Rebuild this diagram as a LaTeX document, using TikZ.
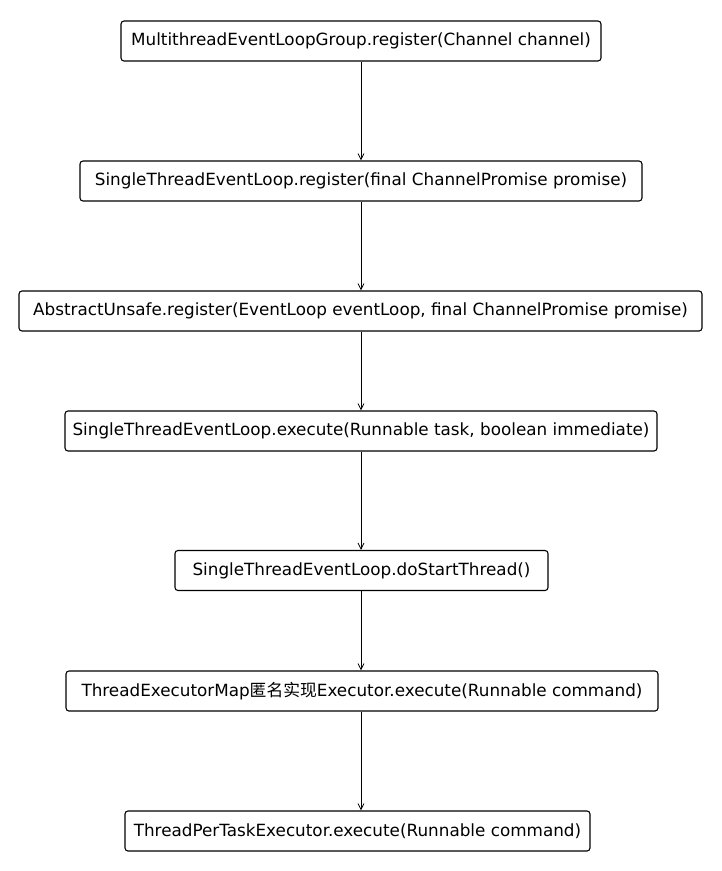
\documentclass[tikz,border=0pt]{standalone}
\usepackage{fontspec}
\setmainfont{DejaVu Sans}
\newfontfamily\cjk{Noto Sans CJK SC}
\usetikzlibrary{arrows.meta}

\begin{document}
\begin{tikzpicture}[
    x=1pt, y=-1pt,
    box/.style={rectangle, draw, rounded corners=3pt, line width=1.1pt, minimum height=40pt, inner sep=0pt, align=center, font=\fontsize{16.8}{20}\selectfont},
    arrow/.style={-{Straight Barb[length=6pt, width=6pt]}, line width=0.8pt}
]
\useasboundingbox (0,0) rectangle (722,871);
\node[box, minimum width=480pt] (group) at (361,41) {MultithreadEventLoopGroup.register(Channel channel)};
\node[box, minimum width=562pt] (loopreg) at (361,181) {SingleThreadEventLoop.register(final ChannelPromise promise)};
\node[box, minimum width=683pt] (unsafe) at (360.5,311) {AbstractUnsafe.register(EventLoop eventLoop, final ChannelPromise promise)};
\node[box, minimum width=592pt] (loopexec) at (361,431) {SingleThreadEventLoop.execute(Runnable task, boolean immediate)};
\node[box, minimum width=373pt] (start) at (361.5,570.5) {SingleThreadEventLoop.doStartThread()};
\node[box, minimum width=592pt] (mapexec) at (362,691) {ThreadExecutorMap{\cjk 匿名实现}Executor.execute(Runnable command)};
\node[box, minimum width=465pt] (pertask) at (357.5,831) {ThreadPerTaskExecutor.execute(Runnable command)};

\draw[arrow] (group.south -| 361,0) -- (loopreg.north -| 361,0);
\draw[arrow] (loopreg.south -| 361,0) -- (unsafe.north -| 361,0);
\draw[arrow] (unsafe.south -| 361,0) -- (loopexec.north -| 361,0);
\draw[arrow] (loopexec.south -| 361,0) -- (start.north -| 361,0);
\draw[arrow] (start.south -| 361,0) -- (mapexec.north -| 361,0);
\draw[arrow] (mapexec.south -| 361,0) -- (pertask.north -| 361,0);
\end{tikzpicture}
\end{document}
